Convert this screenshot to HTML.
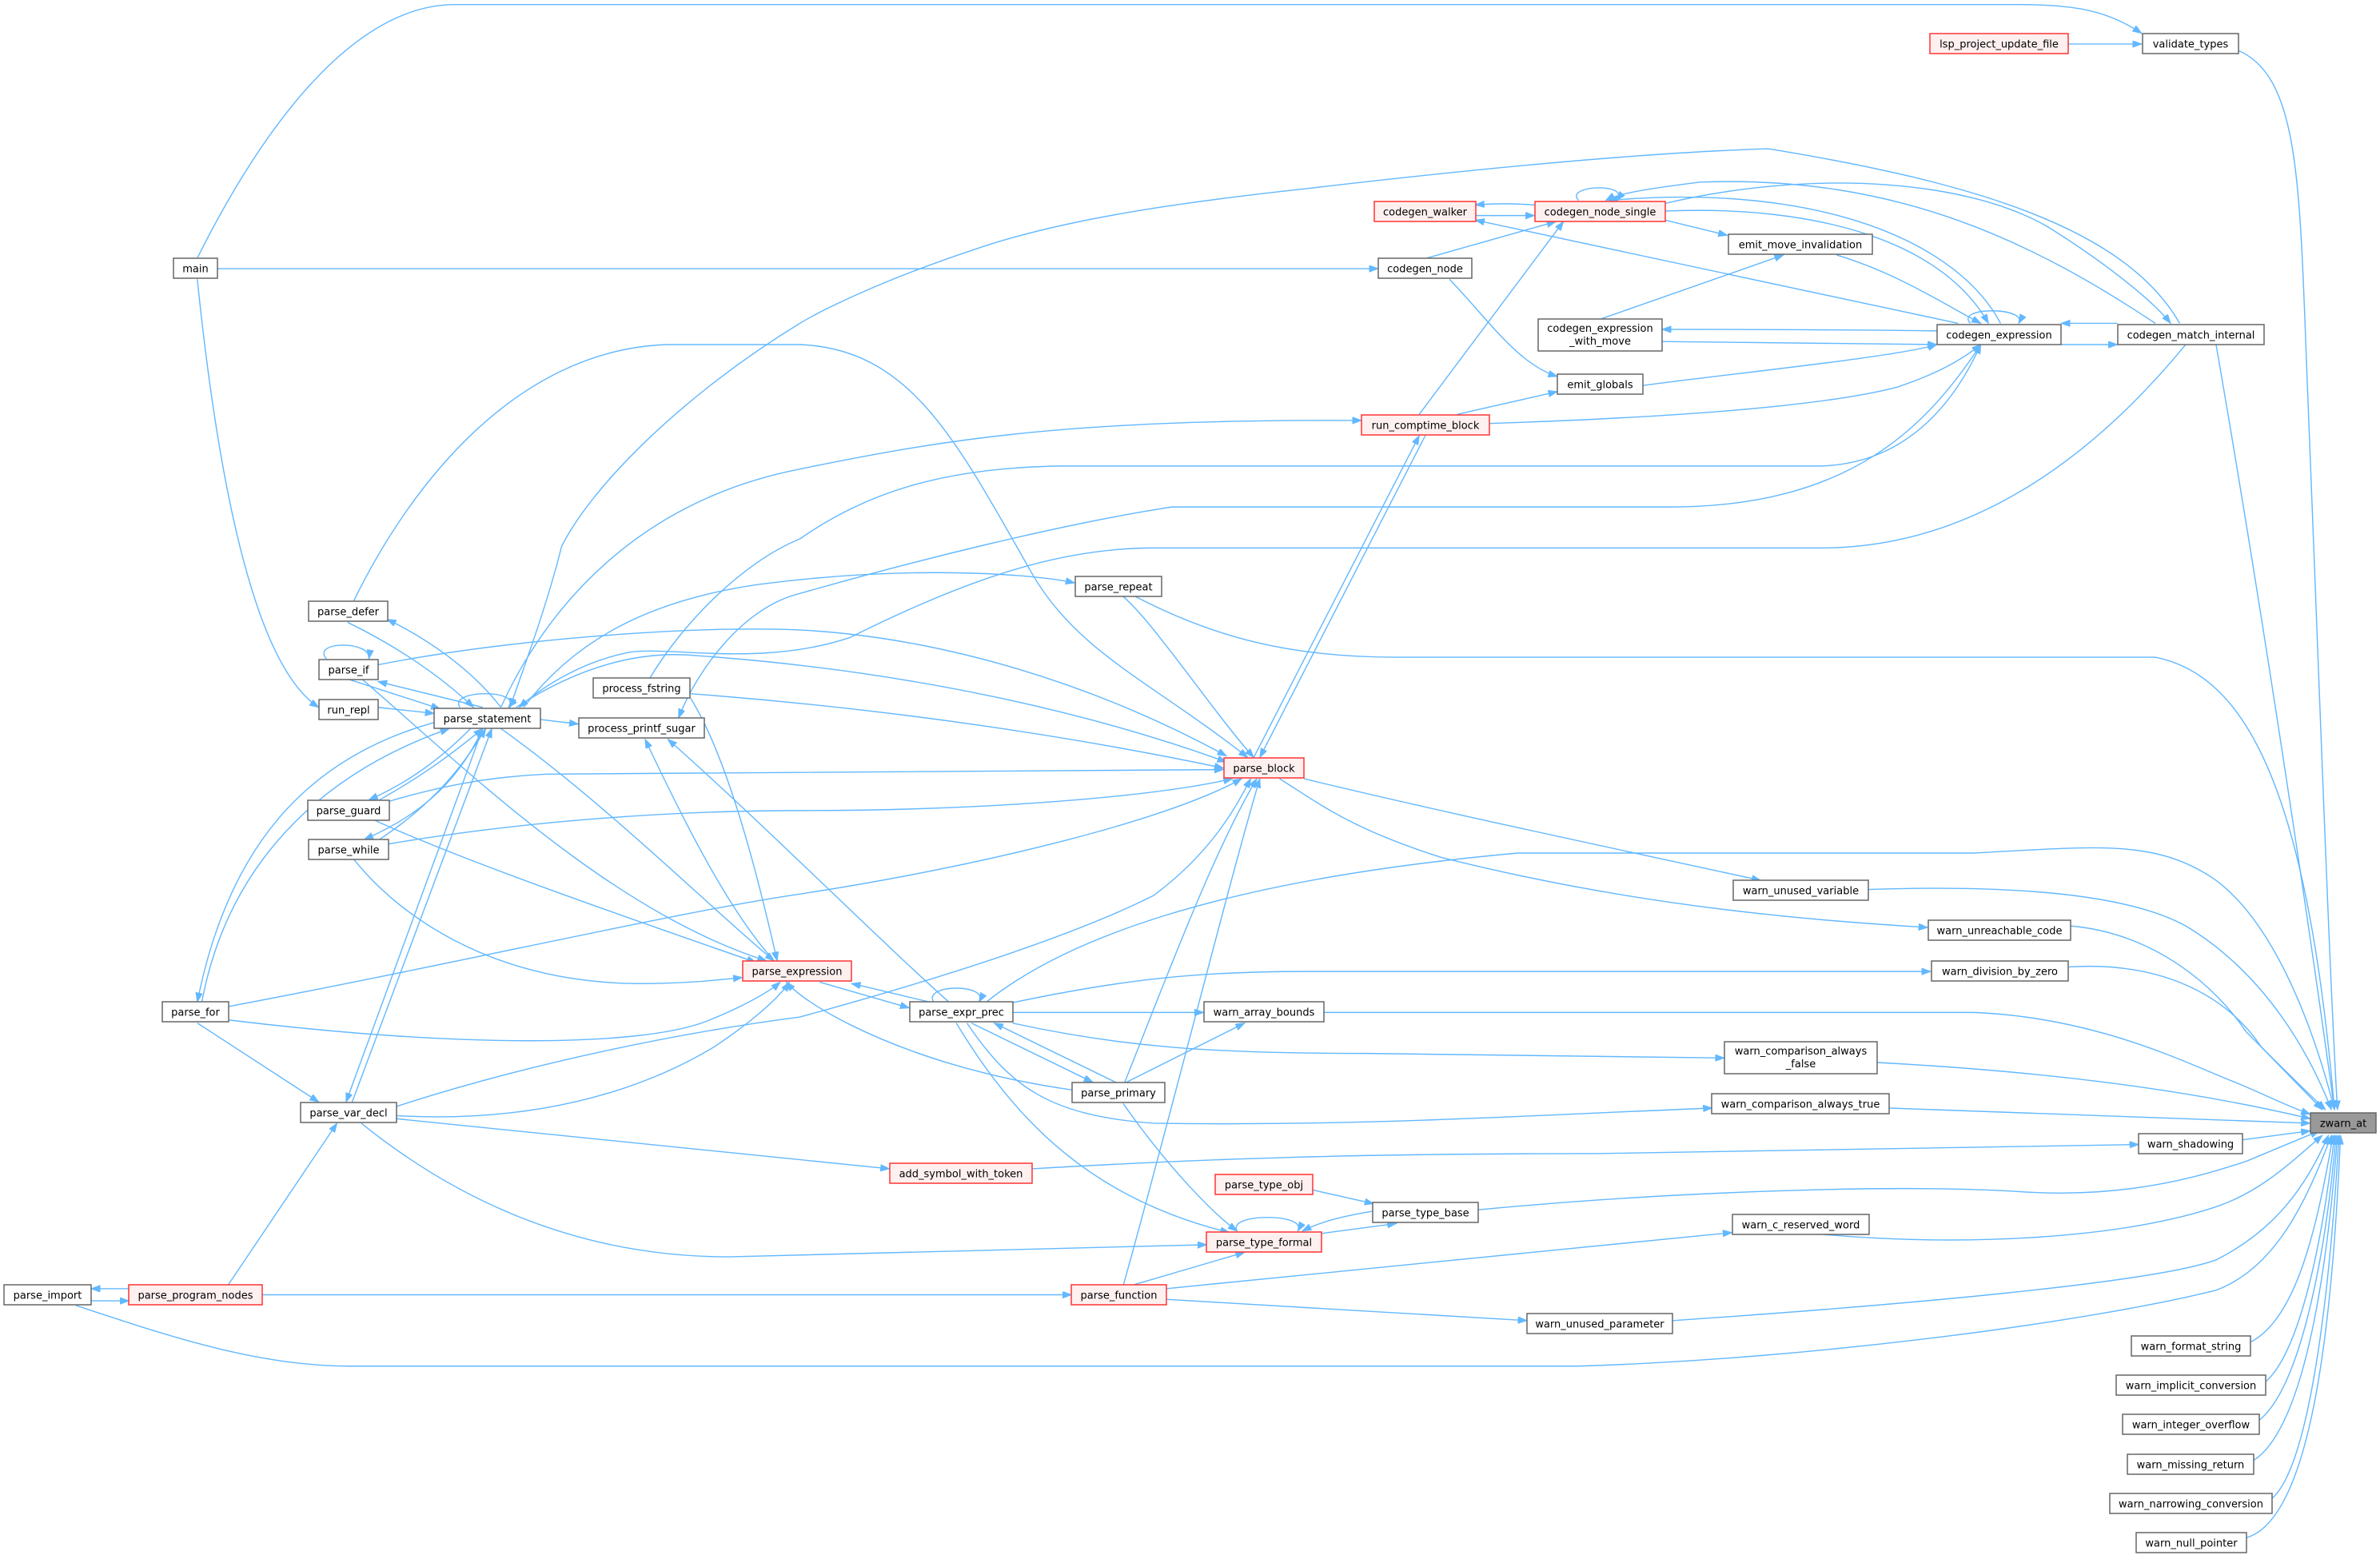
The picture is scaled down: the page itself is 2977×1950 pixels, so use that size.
<!DOCTYPE html>
<html><head><meta charset="utf-8"><style>
html,body{margin:0;padding:0;background:#fff;}
svg{display:block;}
text{font-family:"DejaVu Sans","Liberation Sans",sans-serif;font-size:13px;fill:#000;text-anchor:middle;}
.n{fill:#fff;stroke:#666;stroke-width:1.5;}
.r{fill:#fff0f0;stroke:#f33;stroke-width:1.5;}
.g{fill:#999;stroke:#666;stroke-width:1.5;}
.e path{fill:none;stroke:#63b8ff;stroke-width:0.75;marker-end:url(#a);}
.e path.na{marker-end:none;}
</style></head><body>
<svg width="2977" height="1950" viewBox="0 0 2977 1950" xmlns="http://www.w3.org/2000/svg">
<defs><marker id="a" markerUnits="userSpaceOnUse" markerWidth="7" markerHeight="5" refX="6" refY="2.2" orient="auto"><path d="M0,0 L6,2.2 L0,4.4 z" fill="#63b8ff" stroke="#63b8ff" stroke-width="0.5"/></marker></defs>
<g class="e" transform="scale(1.8986)">
<path d="M1474,33 C1515,50 1515,120 1520,250 C1528,450 1535,650 1540,731"/>
<path d="M1460,227 C1490,400 1520,600 1538,731"/>
<path d="M748,393 C800,420 850,433 920,433 L1420,433 C1480,445 1520,520 1538,731"/>
<path d="M650,660 C700,620 800,580 1000,562 L1300,562 C1380,558 1420,552 1460,580 C1500,610 1525,680 1538,731"/>
<path d="M1231,586 C1320,583 1400,588 1440,610 C1490,640 1520,690 1536,731"/>
<path d="M1364,610 C1420,615 1460,650 1480,680 C1500,700 1515,715 1532,731"/>
<path d="M1363,637 C1430,633 1470,660 1490,690 L1530,731"/>
<path d="M872,667 L1300,667 C1380,670 1440,700 1470,712 C1490,720 1505,728 1522,734"/>
<path d="M1237,700 C1330,705 1430,715 1522,737"/>
<path d="M1245,730 L1522,740"/>
<path d="M1477,751 L1522,745"/>
<path d="M974,797 C1100,785 1250,780 1330,785 C1400,790 1450,775 1480,765 L1528,745"/>
<path d="M1198,813 C1300,822 1400,815 1460,795 C1490,785 1510,765 1530,748"/>
<path d="M1102,870 C1250,860 1420,845 1460,830 C1500,810 1520,780 1534,748"/>
<path d="M50,860 C110,880 170,900 230,900 L1040,900 C1200,895 1380,870 1460,850 C1500,835 1520,790 1536,748"/>
<path d="M1483,884 C1510,870 1525,820 1537,748"/>
<path d="M1493,910 C1515,890 1530,820 1538,748"/>
<path d="M1488,936 C1515,915 1532,830 1539,748"/>
<path d="M1485,962 C1518,940 1533,840 1540,748"/>
<path d="M1497,987 C1522,965 1535,850 1541,748"/>
<path d="M1480,1013 C1525,1000 1537,860 1542,748"/>
<path d="M130,170 C170,90 230,3 300,3 L1330,3 C1370,3 1390,8 1411,22"/>
<path d="M143,177 L908,177"/>
<path d="M130,184 C145,330 170,440 210,466"/>
<path d="M1362,29 L1411,29"/>
<path d="M1011,135 C995,134 985,134 972,135"/>
<path d="M972,142 L1011,142"/>
<path d="M1040,132 C1030,122 1075,120 1065,132"/>
<path d="M940,170 L1025,146"/>
<path d="M955,184 C980,210 1000,240 1026,248"/>
<path d="M935,273 L1030,146"/>
<path d="M960,273 L1026,258"/>
<path d="M981,279 C1100,275 1200,268 1250,255 C1280,245 1295,235 1305,227"/>
<path d="M1097,145 L1138,155"/>
<path d="M1055,210 L1175,168"/>
<path d="M1210,168 C1250,180 1280,200 1305,213"/>
<path d="M1290,213 L972,145"/>
<path d="M1097,139 C1200,135 1280,160 1310,213"/>
<path d="M1318,213 C1290,160 1200,120 1060,132"/>
<path d="M1420,213 C1340,160 1250,115 1120,120 C1080,125 1065,128 1058,132"/>
<path d="M1097,134 C1200,110 1300,120 1350,150 C1390,175 1420,200 1430,213"/>
<path d="M1298,213 C1288,202 1336,202 1330,213"/>
<path d="M1358,227 L1395,227"/>
<path d="M1395,213 L1358,213"/>
<path d="M1082,254 C1150,245 1250,235 1276,227"/>
<path d="M1276,218 C1200,217 1150,217 1095,217"/>
<path d="M1095,225 L1276,227"/>
<path class="na" d="M1436,213 C1400,150 1300,120 1165,98 C1100,100 1000,108 863,124 C780,133 700,144 640,165 C580,185 540,205 527,213"/>
<path d="M527,213 C450,260 390,320 370,360 C360,400 345,440 336,466"/>
<path d="M1305,227 C1270,280 1220,334 1100,334 L772,334 C700,345 600,370 527,391 C490,400 460,440 447,473"/>
<path d="M428,447 C450,410 490,370 527,355 C570,325 620,308 700,307 L1200,307 C1260,305 1290,260 1305,227"/>
<path d="M1440,227 C1380,300 1300,361 1200,361 L760,361 C700,361 640,380 560,420 C500,440 440,425 413,430 C385,436 360,450 342,466"/>
<path d="M249,466 L286,470"/>
<path d="M228,447 L290,467"/>
<path d="M318,466 L249,449"/>
<path d="M330,466 C310,440 280,420 255,408"/>
<path d="M229,410 C260,425 290,445 312,466"/>
<path d="M233,396 C270,320 340,230 440,227 L527,227 C600,230 630,290 680,378 C710,430 760,450 822,499"/>
<path d="M215,434 C205,422 245,422 243,434"/>
<path d="M303,466 C295,454 345,454 335,466"/>
<path d="M310,480 C290,500 270,515 243,527"/>
<path d="M250,527 C280,510 300,495 318,480"/>
<path d="M318,480 C300,520 270,540 240,553"/>
<path d="M250,553 C285,530 305,505 320,480"/>
<path d="M286,476 C200,500 150,560 130,660"/>
<path d="M133,660 C150,570 210,510 296,480"/>
<path d="M318,480 L228,726"/>
<path d="M232,726 L324,480"/>
<path d="M356,474 L381,477"/>
<path d="M330,480 C400,530 470,600 510,633"/>
<path d="M249,438 C330,422 450,412 527,415 C620,420 720,450 808,498"/>
<path d="M340,466 C380,440 420,428 460,432 C600,442 720,470 808,502"/>
<path d="M455,457 C600,468 720,488 806,506"/>
<path d="M330,466 C360,400 420,330 527,309 C620,290 700,276 897,277"/>
<path d="M345,466 C380,420 430,395 500,385 C600,372 680,378 708,384"/>
<path d="M740,393 C760,410 800,470 826,499"/>
<path d="M826,499 L935,287"/>
<path d="M939,287 L830,499"/>
<path d="M455,460 C480,500 500,580 512,633"/>
<path d="M625,660 C580,620 500,540 440,487"/>
<path d="M510,633 C480,600 450,540 425,487"/>
<path d="M256,528 C290,518 320,512 360,510 L806,507"/>
<path d="M256,556 C350,540 450,534 527,534 C650,534 760,525 812,513"/>
<path d="M151,663 C300,635 450,600 527,589 C650,570 770,540 818,513"/>
<path d="M261,729 C350,700 450,680 527,670 C600,650 700,620 760,590 C800,560 815,530 824,513"/>
<path d="M741,713 C770,640 800,560 828,513"/>
<path d="M740,847 C770,740 810,580 830,513"/>
<path d="M859,513 C950,535 1050,556 1160,580"/>
<path d="M843,513 C870,530 890,546 950,565 C1050,590 1150,604 1270,611"/>
<path d="M540,647 L599,664"/>
<path d="M612,660 C590,655 575,651 561,648"/>
<path d="M706,718 C650,710 600,695 560,675 C540,665 525,655 518,647"/>
<path d="M615,660 C608,648 652,648 645,660"/>
<path d="M640,674 L720,713"/>
<path d="M735,713 L655,674"/>
<path d="M667,667 L793,667"/>
<path d="M742,713 L820,674"/>
<path d="M667,674 C740,690 800,694 900,694 L1136,697"/>
<path d="M637,674 C665,715 690,735 760,740 C900,742 1000,735 1128,730"/>
<path d="M630,674 C670,740 720,790 810,812"/>
<path d="M740,727 C770,770 800,800 815,811"/>
<path d="M665,661 C740,645 790,640 860,640 L1272,640"/>
<path d="M261,737 L586,770"/>
<path d="M680,770 C800,763 900,760 1050,760 L1409,754"/>
<path d="M238,740 C300,790 380,828 480,828 L795,820"/>
<path d="M261,735 C350,740 420,720 470,690 C500,670 515,655 520,647"/>
<path d="M130,674 L210,726"/>
<path d="M151,672 C300,690 420,690 465,673 C485,665 505,655 514,647"/>
<path d="M233,566 C260,600 320,647 420,648 C450,648 470,646 489,644"/>
<path d="M246,540 C300,565 400,600 498,634"/>
<path d="M238,447 C300,500 400,600 505,633"/>
<path d="M173,853 L706,853"/>
<path d="M150,847 L222,740"/>
<path d="M85,849 L60,849"/>
<path d="M60,857 L85,857"/>
<path d="M768,849 L1141,812"/>
<path d="M768,856 L1006,870"/>
<path d="M745,847 L820,825"/>
<path d="M815,811 C808,799 862,799 855,811"/>
<path d="M860,814 L920,806"/>
<path d="M904,798 C880,802 868,806 858,811"/>
<path d="M865,784 L905,793"/>
</g>
<g>
<rect class="n" x="217" y="323" width="55" height="25"/><text x="244.5" y="340.5">main</text>
<rect class="n" x="2680" y="42" width="120" height="25"/><text x="2740" y="59.5">validate_types</text>
<rect class="r" x="2414" y="42" width="173" height="25"/><text x="2500.5" y="59.5">lsp_project_update_file</text>
<rect class="r" x="1719" y="252" width="127" height="25"/><text x="1782.5" y="269.5">codegen_walker</text>
<rect class="r" x="1920" y="252" width="163" height="25"/><text x="2001.5" y="269.5">codegen_node_single</text>
<rect class="n" x="1724" y="323" width="117" height="25"/><text x="1782.5" y="340.5">codegen_node</text>
<rect class="n" x="2162" y="293" width="180" height="25"/><text x="2252" y="310.5">emit_move_invalidation</text>
<rect class="n" x="1924" y="399" width="155" height="40"/><text x="2001.5" y="415">codegen_expression</text><text x="2001.5" y="431">_with_move</text>
<rect class="n" x="1948" y="468" width="107" height="25"/><text x="2001.5" y="485.5">emit_globals</text>
<rect class="n" x="2423" y="406" width="155" height="25"/><text x="2500.5" y="423.5">codegen_expression</text>
<rect class="n" x="2649" y="406" width="183" height="25"/><text x="2740.5" y="423.5">codegen_match_internal</text>
<rect class="r" x="1703" y="519" width="160" height="25"/><text x="1783" y="536.5">run_comptime_block</text>
<rect class="n" x="1345" y="721" width="108" height="25"/><text x="1399" y="738.5">parse_repeat</text>
<rect class="n" x="386" y="752" width="99" height="25"/><text x="435.5" y="769.5">parse_defer</text>
<rect class="n" x="399" y="825" width="74" height="25"/><text x="436" y="842.5">parse_if</text>
<rect class="n" x="399" y="875" width="74" height="25"/><text x="436" y="892.5">run_repl</text>
<rect class="n" x="543" y="886" width="133" height="25"/><text x="609.5" y="903.5">parse_statement</text>
<rect class="n" x="742" y="848" width="121" height="25"/><text x="802.5" y="865.5">process_fstring</text>
<rect class="n" x="724" y="898" width="157" height="25"/><text x="802.5" y="915.5">process_printf_sugar</text>
<rect class="r" x="1531" y="948" width="100" height="25"/><text x="1581" y="965.5">parse_block</text>
<rect class="n" x="385" y="1001" width="102" height="25"/><text x="436" y="1018.5">parse_guard</text>
<rect class="n" x="386" y="1050" width="100" height="25"/><text x="436" y="1067.5">parse_while</text>
<rect class="n" x="2168" y="1101" width="169" height="25"/><text x="2252.5" y="1118.5">warn_unused_variable</text>
<rect class="n" x="2412" y="1151" width="178" height="25"/><text x="2501" y="1168.5">warn_unreachable_code</text>
<rect class="r" x="929" y="1202" width="136" height="25"/><text x="997" y="1219.5">parse_expression</text>
<rect class="n" x="2416" y="1202" width="171" height="25"/><text x="2501.5" y="1219.5">warn_division_by_zero</text>
<rect class="n" x="203" y="1253" width="83" height="25"/><text x="244.5" y="1270.5">parse_for</text>
<rect class="n" x="1138" y="1253" width="129" height="25"/><text x="1202.5" y="1270.5">parse_expr_prec</text>
<rect class="n" x="1506" y="1253" width="150" height="25"/><text x="1581" y="1270.5">warn_array_bounds</text>
<rect class="n" x="2157" y="1303" width="191" height="40"/><text x="2252.5" y="1319">warn_comparison_always</text><text x="2252.5" y="1335">_false</text>
<rect class="n" x="1341" y="1354" width="116" height="25"/><text x="1399" y="1371.5">parse_primary</text>
<rect class="n" x="2141" y="1368" width="222" height="25"/><text x="2252" y="1385.5">warn_comparison_always_true</text>
<rect class="n" x="376" y="1379" width="120" height="25"/><text x="436" y="1396.5">parse_var_decl</text>
<rect class="g" x="2890" y="1392" width="82" height="25"/><text x="2931" y="1409.5">zwarn_at</text>
<rect class="n" x="2675" y="1418" width="130" height="25"/><text x="2740" y="1435.5">warn_shadowing</text>
<rect class="r" x="1113" y="1455" width="178" height="25"/><text x="1202" y="1472.5">add_symbol_with_token</text>
<rect class="r" x="1520" y="1469" width="122" height="25"/><text x="1581" y="1486.5">parse_type_obj</text>
<rect class="n" x="1717" y="1504" width="132" height="25"/><text x="1783" y="1521.5">parse_type_base</text>
<rect class="r" x="1509" y="1541" width="144" height="25"/><text x="1581" y="1558.5">parse_type_formal</text>
<rect class="n" x="2167" y="1519" width="171" height="25"/><text x="2252.5" y="1536.5">warn_c_reserved_word</text>
<rect class="n" x="5" y="1607" width="109" height="25"/><text x="59.5" y="1624.5">parse_import</text>
<rect class="r" x="161" y="1607" width="167" height="25"/><text x="244.5" y="1624.5">parse_program_nodes</text>
<rect class="r" x="1340" y="1607" width="119" height="25"/><text x="1399.5" y="1624.5">parse_function</text>
<rect class="n" x="1910" y="1643" width="182" height="25"/><text x="2001" y="1660.5">warn_unused_parameter</text>
<rect class="n" x="2666" y="1671" width="149" height="25"/><text x="2740.5" y="1688.5">warn_format_string</text>
<rect class="n" x="2647" y="1720" width="187" height="25"/><text x="2740.5" y="1737.5">warn_implicit_conversion</text>
<rect class="n" x="2655" y="1769" width="171" height="25"/><text x="2740.5" y="1786.5">warn_integer_overflow</text>
<rect class="n" x="2661" y="1819" width="158" height="25"/><text x="2740" y="1836.5">warn_missing_return</text>
<rect class="n" x="2639" y="1868" width="203" height="25"/><text x="2740.5" y="1885.5">warn_narrowing_conversion</text>
<rect class="n" x="2672" y="1917" width="138" height="25"/><text x="2741" y="1934.5">warn_null_pointer</text>
</g>
</svg>
</body></html>
